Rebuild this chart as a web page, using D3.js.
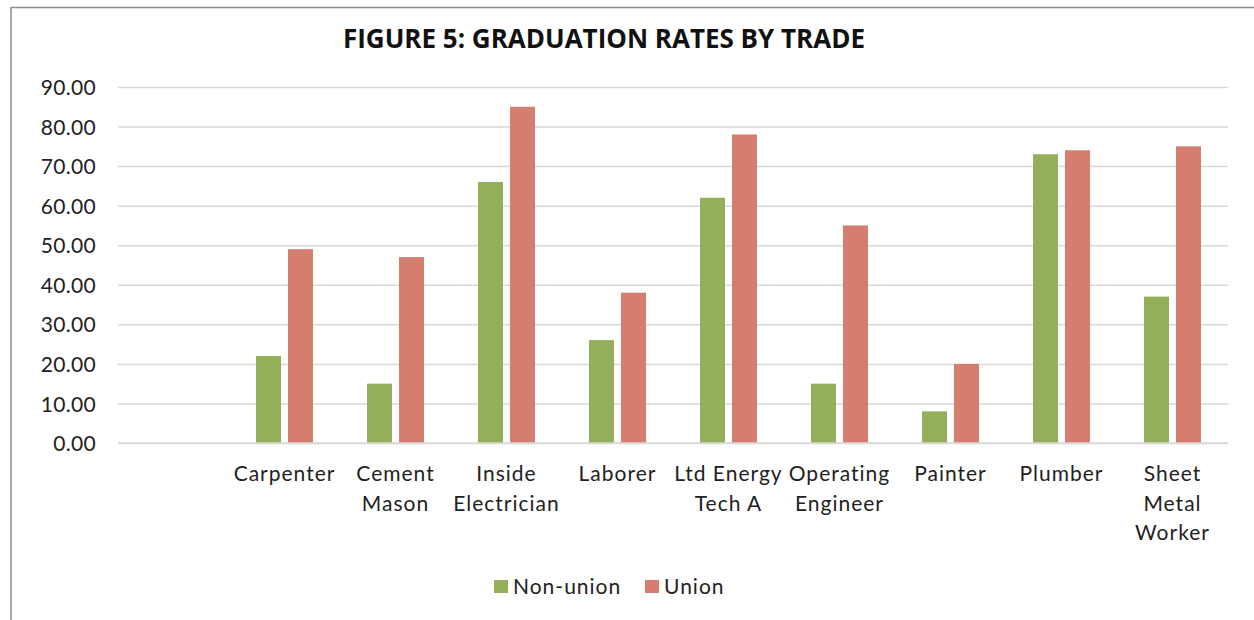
<!DOCTYPE html>
<html>
<head>
<meta charset="utf-8">
<script src="https://cdn.jsdelivr.net/npm/d3@7"></script>
<style>
  html, body { margin: 0; padding: 0; background: #fff; }
  svg { display: block; }
</style>
</head>
<body>
<svg id="chart" width="1254" height="620"></svg>
<script>
const categories = ["", "Carpenter", "Cement Mason", "Inside Electrician", "Laborer", "Ltd Energy Tech A", "Operating Engineer", "Painter", "Plumber", "Sheet Metal Worker"];
const categoryLines = [[""], ["Carpenter"], ["Cement", "Mason"], ["Inside", "Electrician"], ["Laborer"], ["Ltd Energy", "Tech A"], ["Operating", "Engineer"], ["Painter"], ["Plumber"], ["Sheet", "Metal", "Worker"]];
const nonUnion = [null, 22, 15, 66, 26, 62, 15, 8, 73, 37];
const union = [null, 49, 47, 85, 38, 78, 55, 20, 74, 75];
const seriesNames = ["Non-union", "Union"];
const seriesColors = ["#94AF5A", "#D57E70"];
const yTicks = [0, 10, 20, 30, 40, 50, 60, 70, 80, 90];
const title = "FIGURE 5: GRADUATION RATES BY TRADE";

(function () {
const svg = d3.select("#chart");
const font = "Lato, 'Noto Sans', sans-serif";

// frame
svg.append("line").attr("x1", 11).attr("x2", 1254).attr("y1", 7.5).attr("y2", 7.5).attr("stroke", "#8c8c8c").attr("stroke-width", 1.5);
svg.append("line").attr("x1", 11).attr("x2", 11).attr("y1", 7).attr("y2", 620).attr("stroke", "#8c8c8c").attr("stroke-width", 1.5);

const pLeft = 118, pRight = 1228, pTop = 87, pBottom = 443;
const x = d3.scaleBand().domain(categories.map((c, i) => i)).range([pLeft, pRight]).paddingInner(0).paddingOuter(0);
const y = d3.scaleLinear().domain([0, 90]).range([pBottom, pTop]);
const groupW = 57;
const off = (x.bandwidth() - groupW) / 2;
const x1 = d3.scaleBand().domain([0, 1]).range([off, off + groupW]).paddingInner(0.21875).paddingOuter(0);

// gridlines
const yAxis = d3.axisLeft(y).tickValues(yTicks).tickSize(-(pRight - pLeft)).tickFormat(d3.format(".2f")).tickPadding(22);
const gy = svg.append("g").attr("transform", `translate(${pLeft},0)`).call(yAxis);
gy.select(".domain").remove();
gy.selectAll(".tick line").attr("stroke", "#d9d9d9").attr("stroke-width", 1.5);
gy.selectAll(".tick text").attr("font-family", font).attr("font-size", 21).attr("fill", "#222").attr("dy", "0.36em").attr("letter-spacing", 0.3);

// bars
const series = [nonUnion, union];
series.forEach((vals, s) => {
  svg.append("g").selectAll("rect")
    .data(vals.map((v, i) => ({ v, i })).filter(d => d.v != null))
    .join("rect")
    .attr("x", d => x(d.i) + x1(s))
    .attr("width", x1.bandwidth())
    .attr("y", d => y(d.v))
    .attr("height", d => y(0) - y(d.v))
    .attr("fill", seriesColors[s]);
});

// baseline
svg.append("line").attr("x1", pLeft).attr("x2", pRight).attr("y1", y(0)).attr("y2", y(0)).attr("stroke", "#d9d9d9").attr("stroke-width", 1.5);

// category labels
const gx = svg.append("g");
categoryLines.forEach((lines, i) => {
  const cx = x(i) + x.bandwidth() / 2;
  const t = gx.append("text")
    .attr("text-anchor", "middle")
    .attr("font-family", font).attr("font-size", 21).attr("letter-spacing", 1).attr("fill", "#222");
  lines.forEach((ln, k) => {
    t.append("tspan").attr("x", cx).attr("y", 481 + k * 29.5).text(ln);
  });
});

// title
svg.append("text").attr("x", 604).attr("y", 48).attr("text-anchor", "middle")
  .attr("font-family", "'Open Sans', sans-serif").attr("font-weight", "bold").attr("font-size", 26)
  .attr("fill", "#111").text(title);

// legend
const legendPos = [{ x: 494, tx: 513 }, { x: 645, tx: 664 }];
seriesNames.forEach((n, s) => {
  svg.append("rect").attr("x", legendPos[s].x).attr("y", 580).attr("width", 14).attr("height", 13).attr("fill", seriesColors[s]);
  svg.append("text").attr("x", legendPos[s].tx).attr("y", 594).attr("font-family", font).attr("font-size", 21).attr("letter-spacing", 1).attr("fill", "#222").text(n);
});
})();
</script>
</body>
</html>
